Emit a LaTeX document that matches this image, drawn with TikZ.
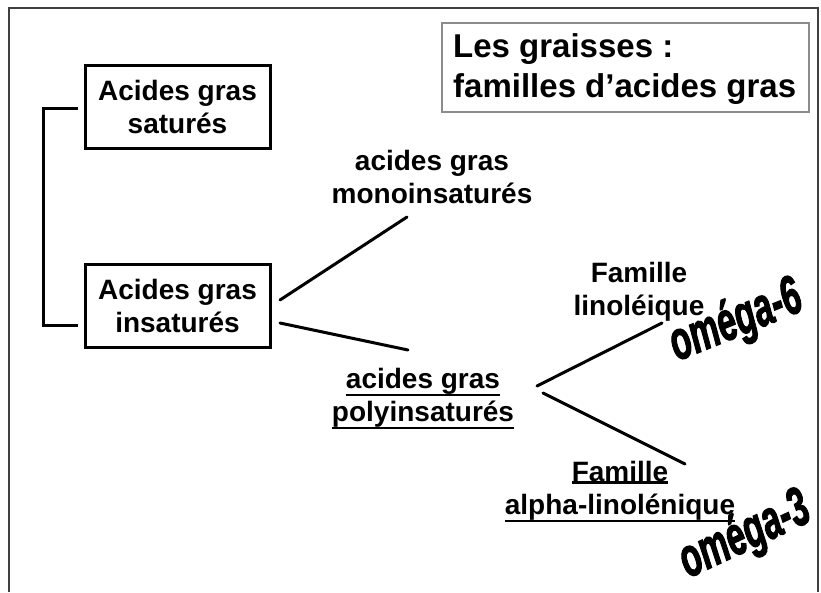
\documentclass[tikz,border=0pt]{standalone}
\usepackage{fontspec}
\setmainfont{Liberation Sans}
\newfontfamily\omegafont[FakeBold=2.5]{Liberation Sans Bold Italic}
\newcommand\ulin[1]{\setbox0=\hbox{#1}\rlap{\rule[\dimexpr-\dp0-1.5pt\relax]{\wd0}{2.4pt}}\box0}
\begin{document}
\begin{tikzpicture}[x=1pt,y=-1pt,
  lbl/.style={font=\fontsize{28}{33}\selectfont\bfseries, align=center, inner sep=0pt},
  boxed/.style={lbl, draw, line width=3pt, minimum width=185pt, minimum height=83pt},
  conn/.style={line width=3pt, line cap=round},
  omega/.style={font=\fontsize{42}{42}\omegafont, inner sep=0pt}]
\useasboundingbox (0,0) rectangle (821,592);
% outer frame
\draw[line width=1.5pt, black!75] (9,592) -- (9,8) -- (818,8) -- (818,592);
% title
\draw[line width=1.8pt, black!45] (442,23) rectangle (809,112);
\node[font=\fontsize{33}{40}\selectfont\bfseries, align=left, anchor=west, inner sep=0pt] (title) at (453,69) {Les graisses :\\familles d’acides gras};
% boxes
\node[boxed] (sat) at (177.5,106.5) {Acides gras\\satur\'es};
\node[boxed] (ins) at (177.5,306) {Acides gras\\insatur\'es};
% bracket
\coordinate (b1) at (78,108);
\coordinate (b2) at (78,325);
\draw[line width=3pt] (b1) -- (43,108) -- (43,325) -- (b2);
% mono / poly
\node[lbl] (mono) at (432,177) {acides gras\\monoinsatur\'es};
\node[lbl] (poly) at (423,399) {\ulin{acides gras}\\\ulin{polyinsatur\'es}};
\coordinate (m1) at (280,300); \coordinate (m2) at (407,217);
\coordinate (p1) at (280,323); \coordinate (p2) at (408,350);
\draw[conn] (m1) -- (m2);
\draw[conn] (p1) -- (p2);
% families
\node[lbl] (lino) at (639,292) {Famille\\linol\'eique};
\node[lbl] (alpha) at (620,492) {\ulin{Famille}\\\ulin{alpha-linol\'enique}};
\coordinate (q1) at (537,386); \coordinate (q2) at (662,323);
\coordinate (r1) at (543,393); \coordinate (r2) at (685,464);
\draw[conn] (q1) -- (q2);
\draw[conn] (r1) -- (r2);
% omegas
\node[omega, rotate=22] (o6) at (736,322) {\scalebox{0.8}[1.3]{om\'ega-6}};
\node[omega, rotate=25] (o3) at (745,536) {\scalebox{0.8}[1.3]{om\'ega-3}};
\end{tikzpicture}
\end{document}
